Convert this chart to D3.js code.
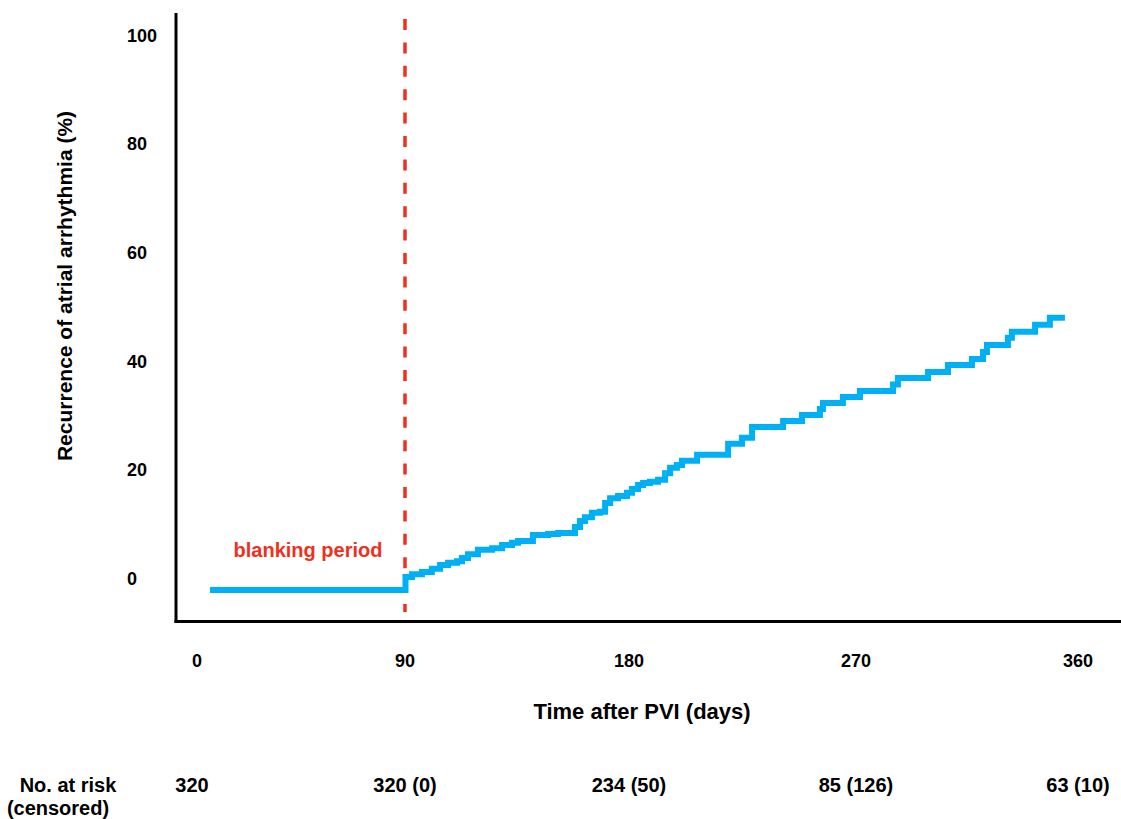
<!DOCTYPE html>
<html><head><meta charset="utf-8">
<script src="https://cdn.jsdelivr.net/npm/d3@7"></script>
<style>
body{margin:0;background:#fff}
svg{display:block}
text{font-family:"Liberation Sans",Arial,Helvetica,sans-serif;font-weight:bold;fill:#000}
</style>
</head><body>
<svg id="c" width="1121" height="819"></svg>
<script>
// ---- data ----
const xTicks = [0, 90, 180, 270, 360];
const yTicks = [0, 20, 40, 60, 80, 100];
const riskLabels = ["320", "320 (0)", "234 (50)", "85 (126)", "63 (10)"];
const blankingEnd = 90;
const days = [5.6, 90.2, 92.8, 96.8, 100.8, 104.1, 107.3, 110.9, 112.9, 115.3, 119.3, 125.0, 129.0, 133.0, 135.4,
  141.4, 147.5, 151.5, 158.3, 160.3, 162.3, 165.1, 168.3, 170.4, 172.4, 175.6, 179.2, 181.2, 183.6, 185.6,
  188.3, 191.5, 194.3, 196.3, 199.0, 201.0, 207.0, 219.3, 224.8, 228.8, 241.1, 248.6, 255.7, 256.9, 264.8,
  271.6, 285.0, 287.0, 299.2, 307.3, 317.0, 321.5, 323.1, 331.6, 333.2, 342.6, 348.6, 354.7];
const recurrence = [0, 2.4, 2.9, 3.3, 3.9, 4.6, 5.0, 5.3, 5.9, 6.6, 7.4, 7.7, 8.3, 8.7, 9.0,
  10.1, 10.3, 10.5, 11.6, 12.7, 13.4, 14.2, 14.4, 16.0, 16.9, 17.3, 17.9, 18.6, 19.3, 19.7,
  19.9, 20.3, 21.5, 22.5, 23.0, 23.8, 24.9, 26.9, 28.0, 30.0, 31.1, 32.2, 33.3, 34.4, 35.5,
  36.6, 37.8, 39.0, 40.1, 41.4, 42.5, 43.8, 45.1, 46.4, 47.5, 48.8, 50.1, 50.1];

// ---- layout ----
const svg = d3.select("#c");
const x = d3.scaleLinear().domain(xTicks).range([197, 405, 629, 856, 1078]);
const y = d3.scaleLinear().domain([0, 100]).range([590, 46.5]);
const axisLeftX = 176, axisBottomY = 621.5, axisTop = 13;

// axes lines
svg.append("line").attr("x1", axisLeftX).attr("x2", axisLeftX).attr("y1", axisTop).attr("y2", axisBottomY + 1.5)
  .attr("stroke", "#000").attr("stroke-width", 3);
svg.append("line").attr("x1", axisLeftX - 1.5).attr("x2", 1121).attr("y1", axisBottomY).attr("y2", axisBottomY)
  .attr("stroke", "#000").attr("stroke-width", 3);

// y tick labels
svg.append("g").selectAll("text").data(yTicks).join("text")
  .attr("x", 127).attr("y", d => y(d) - 5)
  .attr("text-anchor", "start").style("font-size", "18px").text(d => d);

// x tick labels
svg.append("g").selectAll("text").data(xTicks).join("text")
  .attr("x", d => x(d)).attr("y", 667)
  .attr("text-anchor", "middle").style("font-size", "18px").text(d => d);

// axis titles
svg.append("text").attr("x", 642).attr("y", 719).attr("text-anchor", "middle")
  .style("font-size", "22px").text("Time after PVI (days)");
svg.append("text").attr("transform", "translate(72,286) rotate(-90)").attr("text-anchor", "middle")
  .style("font-size", "21px").text("Recurrence of atrial arrhythmia (%)");

// blanking line
svg.append("line").attr("x1", x(blankingEnd)).attr("x2", x(blankingEnd)).attr("y1", 19).attr("y2", 612)
  .attr("stroke", "#F0301E").attr("stroke-width", 3.5).attr("stroke-dasharray", "11,12.4");
svg.append("text").attr("x", 308).attr("y", 557).attr("text-anchor", "middle")
  .style("font-size", "20px").style("fill", "#F0301E").text("blanking period");

// KM curve
const pts = days.map((d, i) => [d, recurrence[i]]);
const line = d3.line().x(d => x(d[0])).y(d => y(d[1])).curve(d3.curveStepAfter);
svg.append("path").datum(pts).attr("d", line).attr("fill", "none")
  .attr("stroke", "#00B0F5").attr("stroke-width", 6).attr("stroke-linejoin", "miter");

// number at risk
svg.append("text").attr("x", 68).attr("y", 792).attr("text-anchor", "middle").style("font-size", "20px").text("No. at risk");
svg.append("text").attr("x", 58).attr("y", 815).attr("text-anchor", "middle").style("font-size", "20px").text("(censored)");
svg.append("g").selectAll("text").data(riskLabels).join("text")
  .attr("x", (d, i) => x(xTicks[i]) - (i === 0 ? 5 : 0)).attr("y", 792)
  .attr("text-anchor", "middle").style("font-size", "20px").text(d => d);
</script>
</body></html>
